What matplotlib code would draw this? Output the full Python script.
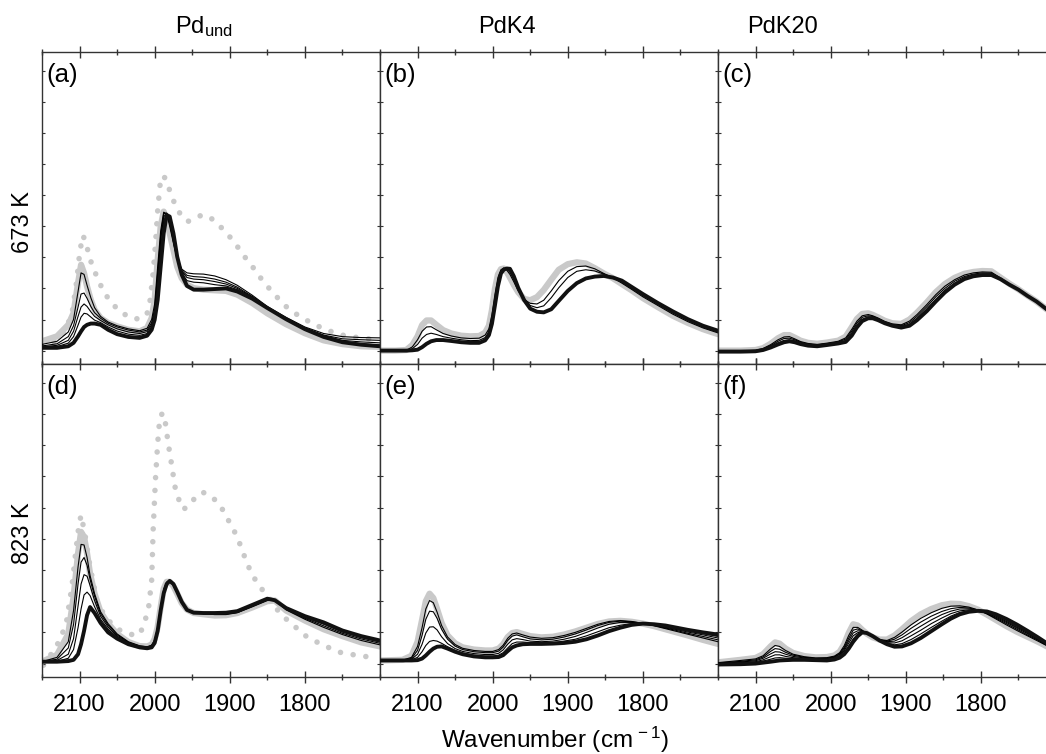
import numpy as np
import matplotlib
matplotlib.use("Agg")
import matplotlib.pyplot as plt

plt.rcParams['font.family'] = ['Liberation Sans', 'DejaVu Sans']
plt.rcParams['mathtext.fontset'] = 'custom'
plt.rcParams['mathtext.rm'] = 'Liberation Sans'
plt.rcParams['mathtext.it'] = 'Liberation Sans'

# ---- panel (a): Pd_und, 673 K ----
wn_a = [2150, 2130, 2115, 2108, 2102, 2098, 2094, 2090, 2085, 2080, 2072, 2062, 2050, 2035,
        2020, 2010, 2004, 2000, 1996, 1992, 1988, 1984, 1980, 1975, 1970, 1964, 1957, 1948,
        1935, 1920, 1905, 1890, 1870, 1850, 1825, 1800, 1775, 1750, 1725, 1700]
a_gray = [0.30, 0.46, 0.83, 1.21, 2.17, 2.76, 2.49, 2.06, 1.63, 1.31, 1.05, 0.89, 0.78, 0.67,
          0.62, 0.73, 1.05, 1.63, 2.92, 3.99, 4.47, 4.20, 3.77, 3.24, 2.70, 2.33, 2.12, 2.01,
          1.96, 1.94, 1.92, 1.80, 1.53, 1.20, 0.85, 0.56, 0.33, 0.21, 0.14, 0.12]
a_black = [0.09, 0.09, 0.14, 0.25, 0.46, 0.62, 0.76, 0.83, 0.87, 0.87, 0.83, 0.67, 0.53, 0.44,
           0.41, 0.48, 0.67, 0.99, 1.63, 2.70, 3.77, 4.36, 4.31, 3.77, 3.02, 2.44, 2.08, 1.96,
           1.96, 1.98, 2.00, 1.90, 1.67, 1.37, 1.01, 0.69, 0.44, 0.27, 0.19, 0.14]
a_thin = [
    [0.20, 0.30, 0.60, 1.00, 1.90, 2.50, 2.45, 2.10, 1.70, 1.38, 1.10, 0.92, 0.80, 0.70,
     0.64, 0.72, 1.00, 1.50, 2.70, 3.85, 4.45, 4.40, 4.00, 3.45, 2.95, 2.62, 2.50, 2.47,
     2.46, 2.40, 2.28, 2.10, 1.78, 1.42, 1.07, 0.76, 0.55, 0.45, 0.42, 0.41],
    [0.15, 0.22, 0.45, 0.80, 1.40, 1.82, 1.85, 1.68, 1.42, 1.22, 1.04, 0.88, 0.76, 0.66,
     0.60, 0.66, 0.90, 1.35, 2.50, 3.70, 4.40, 4.42, 4.08, 3.50, 2.95, 2.58, 2.42, 2.38,
     2.36, 2.30, 2.20, 2.04, 1.74, 1.40, 1.05, 0.73, 0.50, 0.38, 0.35, 0.33],
    [0.12, 0.17, 0.33, 0.62, 1.10, 1.40, 1.50, 1.42, 1.25, 1.10, 0.97, 0.83, 0.70, 0.60,
     0.55, 0.61, 0.83, 1.25, 2.30, 3.55, 4.30, 4.42, 4.15, 3.60, 2.98, 2.55, 2.35, 2.30,
     2.28, 2.22, 2.14, 2.00, 1.72, 1.39, 1.04, 0.72, 0.48, 0.33, 0.28, 0.25],
    [0.10, 0.13, 0.24, 0.45, 0.82, 1.08, 1.20, 1.18, 1.08, 0.98, 0.90, 0.76, 0.63, 0.53,
     0.49, 0.55, 0.76, 1.12, 2.00, 3.30, 4.15, 4.40, 4.22, 3.70, 3.00, 2.50, 2.25, 2.20,
     2.18, 2.12, 2.08, 1.96, 1.70, 1.38, 1.03, 0.71, 0.46, 0.30, 0.22, 0.18],
]
a_dot_wn = [2150, 2135, 2120, 2110, 2104, 2100, 2096, 2092, 2087, 2080, 2070, 2060, 2046, 2030,
            2018, 2010, 2006, 2002, 1999, 1996, 1993, 1990, 1986, 1980, 1973, 1965, 1956, 1947,
            1937, 1927, 1915, 1902, 1890, 1879, 1865, 1855, 1840, 1828, 1810, 1793, 1775, 1753,
            1730, 1704]
a_dot = [0.14, 0.25, 0.60, 1.20, 2.20, 3.10, 3.70, 3.55, 3.00, 2.55, 2.00, 1.60, 1.25, 1.03,
         1.02, 1.20, 1.63, 2.50, 3.40, 4.50, 5.30, 5.62, 5.55, 5.15, 4.70, 4.35, 4.15, 4.25,
         4.36, 4.30, 4.05, 3.72, 3.35, 2.98, 2.55, 2.20, 1.80, 1.47, 1.15, 0.91, 0.70, 0.51,
         0.42, 0.35]

# ---- panel (b): PdK4, 673 K ----
wn_b = [2150, 2130, 2115, 2107, 2100, 2094, 2088, 2082, 2075, 2066, 2055, 2042, 2030, 2018,
        2010, 2005, 2001, 1997, 1993, 1989, 1985, 1981, 1977, 1972, 1966, 1958, 1950, 1941,
        1932, 1922, 1912, 1900, 1888, 1876, 1864, 1852, 1840, 1828, 1815, 1800, 1780, 1760,
        1740, 1720, 1700]
b_gray = [0.00, 0.00, 0.02, 0.18, 0.46, 0.82, 0.97, 0.97, 0.83, 0.66, 0.55, 0.48, 0.46, 0.47,
          0.58, 0.80, 1.30, 1.98, 2.45, 2.62, 2.64, 2.52, 2.35, 2.12, 1.88, 1.66, 1.62, 1.72,
          1.95, 2.28, 2.60, 2.78, 2.84, 2.80, 2.65, 2.48, 2.33, 2.14, 1.94, 1.69, 1.40, 1.12,
          0.89, 0.69, 0.53]
b_black = [0.00, 0.00, 0.00, 0.01, 0.03, 0.11, 0.22, 0.30, 0.34, 0.34, 0.31, 0.27, 0.25, 0.25,
           0.33, 0.50, 0.86, 1.45, 2.07, 2.48, 2.61, 2.64, 2.63, 2.40, 2.02, 1.62, 1.35, 1.25,
           1.23, 1.33, 1.60, 1.92, 2.17, 2.32, 2.38, 2.40, 2.35, 2.25, 2.05, 1.82, 1.53, 1.26,
           1.01, 0.80, 0.64]
b_thin = [
    [0.00, 0.00, 0.01, 0.12, 0.35, 0.62, 0.76, 0.77, 0.67, 0.55, 0.47, 0.41, 0.39, 0.40,
     0.50, 0.70, 1.15, 1.80, 2.35, 2.60, 2.66, 2.58, 2.45, 2.22, 1.92, 1.64, 1.52, 1.50,
     1.62, 1.92, 2.25, 2.55, 2.70, 2.72, 2.63, 2.48, 2.34, 2.17, 1.97, 1.73, 1.45, 1.17,
     0.93, 0.73, 0.57],
    [0.00, 0.00, 0.00, 0.06, 0.20, 0.40, 0.52, 0.56, 0.52, 0.45, 0.40, 0.35, 0.32, 0.33,
     0.42, 0.60, 1.00, 1.62, 2.20, 2.55, 2.64, 2.62, 2.52, 2.30, 1.98, 1.66, 1.45, 1.38,
     1.44, 1.70, 2.02, 2.35, 2.55, 2.60, 2.56, 2.46, 2.35, 2.20, 2.00, 1.77, 1.49, 1.21,
     0.97, 0.76, 0.60],
]

# ---- panel (c): PdK20, 673 K ----
wn_c = [2150, 2120, 2100, 2090, 2080, 2070, 2062, 2055, 2048, 2040, 2030, 2018, 2005, 1990,
        1980, 1972, 1965, 1958, 1950, 1944, 1937, 1928, 1918, 1906, 1895, 1885, 1872, 1860,
        1848, 1835, 1822, 1810, 1798, 1786, 1774, 1762, 1750, 1738, 1726, 1712]
c_gray = [0.00, 0.00, 0.02, 0.08, 0.22, 0.40, 0.50, 0.50, 0.42, 0.32, 0.25, 0.22, 0.26, 0.32,
          0.45, 0.75, 1.02, 1.18, 1.20, 1.15, 1.07, 0.96, 0.88, 0.86, 1.00, 1.22, 1.55, 1.88,
          2.14, 2.34, 2.47, 2.53, 2.56, 2.55, 2.35, 2.15, 1.97, 1.77, 1.58, 1.32]
c_black = [-0.03, -0.03, -0.02, 0.02, 0.10, 0.20, 0.27, 0.30, 0.27, 0.21, 0.16, 0.14, 0.18, 0.23,
           0.28, 0.48, 0.75, 0.95, 1.04, 1.04, 0.98, 0.88, 0.80, 0.74, 0.80, 0.98, 1.27, 1.58,
           1.87, 2.12, 2.30, 2.39, 2.43, 2.43, 2.30, 2.12, 1.96, 1.76, 1.58, 1.32]
c_thin = [
    [-0.01, -0.01, 0.01, 0.07, 0.19, 0.35, 0.44, 0.45, 0.38, 0.29, 0.23, 0.20, 0.24, 0.30,
     0.41, 0.68, 0.95, 1.12, 1.16, 1.12, 1.05, 0.94, 0.86, 0.83, 0.95, 1.16, 1.48, 1.80,
     2.07, 2.28, 2.43, 2.50, 2.53, 2.52, 2.34, 2.14, 1.97, 1.77, 1.58, 1.32],
    [-0.02, -0.02, 0.00, 0.05, 0.16, 0.30, 0.39, 0.40, 0.35, 0.27, 0.21, 0.18, 0.22, 0.28,
     0.37, 0.62, 0.89, 1.07, 1.12, 1.10, 1.03, 0.92, 0.84, 0.80, 0.90, 1.10, 1.41, 1.73,
     2.00, 2.23, 2.38, 2.46, 2.50, 2.49, 2.32, 2.13, 1.96, 1.76, 1.58, 1.32],
    [-0.02, -0.02, -0.01, 0.04, 0.13, 0.25, 0.33, 0.35, 0.31, 0.24, 0.18, 0.16, 0.20, 0.25,
     0.32, 0.55, 0.82, 1.01, 1.08, 1.07, 1.00, 0.90, 0.82, 0.77, 0.85, 1.04, 1.34, 1.65,
     1.94, 2.17, 2.34, 2.43, 2.46, 2.46, 2.31, 2.13, 1.96, 1.76, 1.58, 1.32],
]

# ---- panel (d): Pd_und, 823 K ----
wn_d = [2150, 2130, 2115, 2108, 2102, 2098, 2094, 2090, 2086, 2080, 2072, 2062, 2050, 2035,
        2020, 2010, 2004, 2000, 1996, 1992, 1988, 1984, 1980, 1975, 1970, 1964, 1957, 1948,
        1935, 1920, 1905, 1890, 1870, 1850, 1840, 1825, 1800, 1775, 1750, 1725, 1700]
d_gray = [0.06, 0.28, 0.95, 2.13, 3.53, 4.22, 4.06, 3.53, 2.88, 2.24, 1.65, 1.28, 0.95, 0.69,
          0.56, 0.55, 0.61, 0.79, 1.17, 1.81, 2.40, 2.62, 2.62, 2.48, 2.24, 1.94, 1.73, 1.62,
          1.58, 1.54, 1.55, 1.62, 1.80, 2.00, 2.02, 1.70, 1.38, 1.10, 0.88, 0.68, 0.55]
d_black = [0.06, 0.06, 0.08, 0.12, 0.30, 0.62, 1.05, 1.55, 1.81, 1.62, 1.30, 1.00, 0.80, 0.62,
           0.52, 0.49, 0.52, 0.66, 1.05, 1.70, 2.25, 2.55, 2.65, 2.55, 2.30, 1.98, 1.72, 1.63,
           1.62, 1.62, 1.63, 1.68, 1.88, 2.08, 2.03, 1.78, 1.52, 1.32, 1.06, 0.88, 0.74]
d_thin = [
    [0.06, 0.20, 0.70, 1.70, 3.10, 3.82, 3.80, 3.40, 2.82, 2.24, 1.66, 1.28, 0.95, 0.70,
     0.57, 0.54, 0.59, 0.76, 1.15, 1.78, 2.38, 2.61, 2.63, 2.51, 2.27, 1.96, 1.74, 1.63,
     1.60, 1.57, 1.57, 1.63, 1.82, 2.02, 2.03, 1.72, 1.42, 1.16, 0.93, 0.74, 0.60],
    [0.06, 0.14, 0.50, 1.25, 2.55, 3.25, 3.40, 3.15, 2.70, 2.16, 1.60, 1.23, 0.92, 0.68,
     0.55, 0.53, 0.57, 0.73, 1.12, 1.76, 2.35, 2.60, 2.64, 2.52, 2.28, 1.97, 1.74, 1.63,
     1.61, 1.59, 1.59, 1.64, 1.84, 2.04, 2.03, 1.74, 1.45, 1.21, 0.97, 0.79, 0.65],
    [0.06, 0.10, 0.30, 0.80, 1.85, 2.55, 2.85, 2.80, 2.50, 2.02, 1.52, 1.17, 0.88, 0.66,
     0.54, 0.51, 0.55, 0.70, 1.10, 1.74, 2.32, 2.58, 2.64, 2.53, 2.29, 1.97, 1.73, 1.63,
     1.61, 1.60, 1.61, 1.66, 1.86, 2.06, 2.03, 1.76, 1.48, 1.26, 1.01, 0.83, 0.69],
    [0.06, 0.07, 0.17, 0.45, 1.15, 1.75, 2.20, 2.29, 2.18, 1.82, 1.42, 1.10, 0.84, 0.64,
     0.53, 0.50, 0.54, 0.68, 1.07, 1.72, 2.28, 2.57, 2.65, 2.54, 2.30, 1.98, 1.73, 1.63,
     1.62, 1.61, 1.62, 1.67, 1.87, 2.07, 2.03, 1.77, 1.50, 1.29, 1.04, 0.86, 0.72],
]
d_dot_wn = [2148, 2135, 2125, 2117, 2110, 2105, 2101, 2098, 2093, 2086, 2077, 2066, 2050, 2035,
            2022, 2015, 2008, 2004, 2002, 1999, 1996, 1993, 1989, 1986, 1982, 1977, 1973, 1967,
            1962, 1953, 1944, 1935, 1924, 1913, 1902, 1890, 1882, 1873, 1862, 1850, 1833, 1815,
            1797, 1775, 1753, 1730, 1704]
d_dot = [-0.05, 0.40, 0.80, 1.40, 2.50, 3.60, 4.40, 4.76, 4.17, 3.10, 2.03, 1.49, 1.11, 0.95,
         0.90, 1.17, 1.81, 2.67, 4.28, 5.88, 7.06, 7.92, 8.03, 7.76, 7.06, 6.31, 5.67, 5.19,
         4.94, 5.08, 5.40, 5.48, 5.35, 5.08, 4.60, 4.06, 3.53, 2.99, 2.51, 2.19, 1.60, 1.22,
         0.85, 0.58, 0.36, 0.26, 0.18]

# ---- panel (e): PdK4, 823 K ----
wn_e = [2150, 2120, 2108, 2100, 2094, 2089, 2084, 2079, 2074, 2068, 2060, 2050, 2040, 2025,
        2010, 2000, 1992, 1986, 1980, 1974, 1968, 1960, 1950, 1935, 1920, 1905, 1890, 1875,
        1860, 1845, 1830, 1815, 1800, 1785, 1770, 1755, 1740, 1720, 1700]
e_gray = [0.10, 0.12, 0.25, 0.70, 1.40, 2.00, 2.24, 2.10, 1.75, 1.30, 0.90, 0.65, 0.52, 0.45,
          0.42, 0.42, 0.48, 0.62, 0.85, 0.98, 1.01, 0.95, 0.88, 0.84, 0.86, 0.93, 1.03, 1.15,
          1.27, 1.35, 1.37, 1.34, 1.28, 1.20, 1.10, 1.00, 0.90, 0.76, 0.63]
e_black = [0.10, 0.10, 0.10, 0.11, 0.16, 0.26, 0.38, 0.48, 0.54, 0.55, 0.48, 0.38, 0.30, 0.23,
           0.20, 0.20, 0.21, 0.27, 0.40, 0.52, 0.58, 0.62, 0.63, 0.63, 0.64, 0.66, 0.70, 0.78,
           0.90, 1.04, 1.15, 1.24, 1.28, 1.26, 1.22, 1.15, 1.08, 1.00, 0.93]
e_thin = [
    [0.10, 0.11, 0.20, 0.55, 1.15, 1.75, 2.02, 1.95, 1.65, 1.22, 0.85, 0.61, 0.49, 0.42,
     0.39, 0.39, 0.45, 0.59, 0.81, 0.95, 0.98, 0.92, 0.85, 0.81, 0.83, 0.90, 1.00, 1.13,
     1.26, 1.35, 1.38, 1.35, 1.29, 1.21, 1.12, 1.03, 0.94, 0.82, 0.70],
    [0.10, 0.10, 0.17, 0.42, 0.90, 1.42, 1.68, 1.66, 1.45, 1.10, 0.78, 0.56, 0.45, 0.38,
     0.35, 0.35, 0.40, 0.53, 0.74, 0.88, 0.92, 0.86, 0.79, 0.76, 0.78, 0.85, 0.95, 1.08,
     1.22, 1.32, 1.36, 1.34, 1.29, 1.22, 1.14, 1.06, 0.97, 0.87, 0.76],
    [0.10, 0.10, 0.14, 0.30, 0.62, 0.98, 1.17, 1.18, 1.08, 0.86, 0.64, 0.48, 0.39, 0.32,
     0.29, 0.29, 0.33, 0.44, 0.62, 0.76, 0.80, 0.77, 0.72, 0.70, 0.72, 0.78, 0.87, 1.00,
     1.14, 1.26, 1.32, 1.32, 1.29, 1.23, 1.16, 1.09, 1.01, 0.92, 0.82],
    [0.10, 0.10, 0.12, 0.20, 0.38, 0.58, 0.71, 0.74, 0.72, 0.65, 0.54, 0.42, 0.34, 0.27,
     0.24, 0.24, 0.27, 0.35, 0.50, 0.64, 0.69, 0.69, 0.67, 0.66, 0.67, 0.72, 0.78, 0.89,
     1.02, 1.15, 1.23, 1.28, 1.28, 1.24, 1.19, 1.12, 1.05, 0.96, 0.87],
]

# ---- panel (f): PdK20, 823 K ----
wn_f = [2150, 2120, 2100, 2090, 2080, 2074, 2068, 2060, 2050, 2035, 2020, 2005, 1995, 1988,
        1982, 1976, 1970, 1964, 1958, 1952, 1944, 1935, 1925, 1915, 1905, 1893, 1880, 1866,
        1852, 1840, 1828, 1816, 1804, 1792, 1780, 1766, 1752, 1738, 1724, 1712]
f_gray = [0.04, 0.12, 0.18, 0.30, 0.55, 0.68, 0.64, 0.48, 0.34, 0.24, 0.20, 0.21, 0.26, 0.38,
          0.62, 0.98, 1.26, 1.22, 1.08, 0.96, 0.84, 0.77, 0.77, 0.90, 1.10, 1.36, 1.58, 1.75,
          1.87, 1.92, 1.91, 1.84, 1.73, 1.57, 1.40, 1.20, 1.02, 0.86, 0.70, 0.55]
f_black = [-0.03, -0.02, 0.00, 0.03, 0.06, 0.08, 0.10, 0.11, 0.12, 0.12, 0.11, 0.10, 0.13, 0.19,
           0.30, 0.48, 0.70, 0.88, 1.00, 0.98, 0.88, 0.74, 0.62, 0.54, 0.55, 0.65, 0.82, 1.04,
           1.26, 1.44, 1.58, 1.66, 1.69, 1.67, 1.58, 1.43, 1.25, 1.05, 0.84, 0.65]
f_thin = [
    [0.03, 0.10, 0.15, 0.25, 0.47, 0.58, 0.55, 0.42, 0.30, 0.22, 0.18, 0.19, 0.24, 0.35,
     0.57, 0.90, 1.16, 1.16, 1.07, 0.96, 0.85, 0.77, 0.74, 0.84, 1.01, 1.24, 1.45, 1.63,
     1.77, 1.84, 1.85, 1.81, 1.72, 1.59, 1.43, 1.24, 1.06, 0.89, 0.72, 0.57],
    [0.02, 0.07, 0.12, 0.21, 0.39, 0.48, 0.46, 0.36, 0.27, 0.20, 0.17, 0.17, 0.22, 0.32,
     0.51, 0.81, 1.07, 1.11, 1.05, 0.97, 0.85, 0.76, 0.72, 0.78, 0.92, 1.13, 1.33, 1.52,
     1.67, 1.76, 1.80, 1.78, 1.72, 1.60, 1.46, 1.28, 1.10, 0.92, 0.75, 0.58],
    [0.00, 0.05, 0.09, 0.17, 0.31, 0.38, 0.37, 0.30, 0.23, 0.18, 0.16, 0.16, 0.20, 0.29,
     0.46, 0.73, 0.98, 1.05, 1.04, 0.97, 0.86, 0.76, 0.70, 0.72, 0.83, 1.01, 1.20, 1.40,
     1.57, 1.68, 1.75, 1.75, 1.71, 1.62, 1.49, 1.32, 1.14, 0.96, 0.77, 0.60],
    [-0.01, 0.03, 0.06, 0.12, 0.22, 0.28, 0.28, 0.23, 0.19, 0.16, 0.14, 0.14, 0.17, 0.25,
     0.41, 0.65, 0.89, 0.99, 1.03, 0.97, 0.87, 0.75, 0.67, 0.66, 0.73, 0.89, 1.07, 1.28,
     1.46, 1.60, 1.69, 1.72, 1.70, 1.64, 1.52, 1.35, 1.17, 0.99, 0.79, 0.62],
    [-0.02, 0.00, 0.03, 0.08, 0.14, 0.18, 0.19, 0.17, 0.16, 0.14, 0.13, 0.12, 0.15, 0.22,
     0.35, 0.56, 0.79, 0.94, 1.01, 0.98, 0.87, 0.75, 0.65, 0.60, 0.64, 0.77, 0.95, 1.16,
     1.36, 1.52, 1.64, 1.69, 1.70, 1.65, 1.55, 1.39, 1.21, 1.02, 0.82, 0.63],
]

panel_labels = ['(a)', '(b)', '(c)', '(d)', '(e)', '(f)']
col_titles = [r'Pd$_{\mathrm{und}}$', 'PdK4', 'PdK20']
row_titles = ['673 K', '823 K']

panels = [
    (wn_a, a_gray, a_black, a_thin, a_dot_wn, a_dot),
    (wn_b, b_gray, b_black, b_thin, None, None),
    (wn_c, c_gray, c_black, c_thin, None, None),
    (wn_d, d_gray, d_black, d_thin, d_dot_wn, d_dot),
    (wn_e, e_gray, e_black, e_thin, None, None),
    (wn_f, f_gray, f_black, f_thin, None, None),
]

W, H = 1046, 754
fig = plt.figure(figsize=(W / 100, H / 100), dpi=100)

lefts = [42, 380, 718]
tops = [52, 364]
bottoms = [364, 677]
gray = '#c9c9c9'
spine_c = '#333333'

for i, (wn, g, b, thin, dwn, dv) in enumerate(panels):
    r, c = divmod(i, 3)
    ax = fig.add_axes([lefts[c] / W, 1 - bottoms[r] / H, 338 / W, (bottoms[r] - tops[r]) / H])
    if dwn is not None:
        ax.plot(dwn, dv, color=gray, lw=4.0, linestyle=(0, (0.01, 2.3)),
                dash_capstyle='round', zorder=1)
    ax.plot(wn, g, color=gray, lw=4.5, solid_capstyle='round', zorder=2)
    for t in thin:
        ax.plot(wn, t, color='black', lw=0.8, zorder=3)
    ax.plot(wn, b, color='#111111', lw=2.8, solid_capstyle='round', zorder=4)

    ax.set_xlim(2150, 1700)
    ax.set_ylim(-0.43, 9.6)
    ax.set_xticks([2100, 2000, 1900, 1800])
    ax.set_xticks([2150, 2050, 1950, 1850, 1750], minor=True)
    ax.set_yticks(range(10))
    ax.tick_params(axis='x', which='major', direction='inout', length=8, width=1,
                   top=True, bottom=True, color=spine_c, labelsize=17, pad=8,
                   labelbottom=(r == 1))
    ax.tick_params(axis='x', which='minor', direction='inout', length=4.5, width=1,
                   top=True, bottom=True, color=spine_c)
    ax.tick_params(axis='y', direction='in', length=2.5, width=0.8, left=True, right=True,
                   labelleft=False, color=spine_c)
    for s in ax.spines.values():
        s.set_color(spine_c)
        s.set_linewidth(1.0)
    ax.text(0.014, 0.965, panel_labels[i], transform=ax.transAxes, ha='left', va='top',
            fontsize=18.5)

title_x = [175, 478, 747]
for c in range(3):
    fig.text(title_x[c] / W, 1 - 33 / H, col_titles[c], ha='left', va='baseline', fontsize=17)

fig.text(23 / W, 1 - 222 / H, row_titles[0], rotation=90, ha='center', va='center', fontsize=17)
fig.text(23 / W, 1 - 533 / H, row_titles[1], rotation=90, ha='center', va='center', fontsize=17)
fig.text(555 / W, 1 - 740 / H, r'Wavenumber (cm$^{\,-1}$)', ha='center', va='center', fontsize=17.5)

fig.savefig('out.png', dpi=100)
